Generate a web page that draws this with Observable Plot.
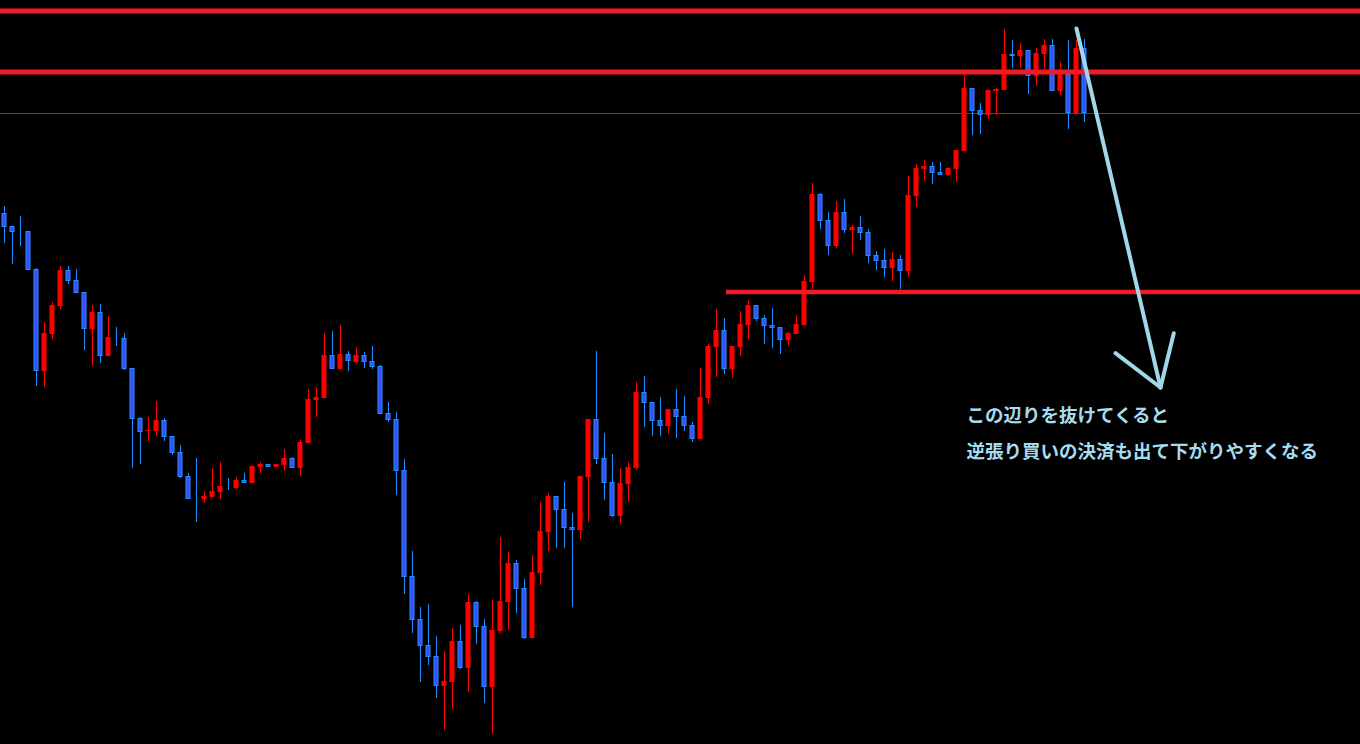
<!DOCTYPE html>
<html><head><meta charset="utf-8">
<script src="https://cdn.jsdelivr.net/npm/d3@7"></script>
<script src="https://cdn.jsdelivr.net/npm/@observablehq/plot@0.6"></script>
<style>html,body{margin:0;padding:0;background:#000;overflow:hidden}#chart svg{display:block}</style>
</head><body><div id="chart"></div>
<script>
// Price values (arbitrary chart units), one per candle
const opens = [
531,518,513,513,475,373,410,438,474,464,
452,415,432,388,407,406,376,326,313,313,
324,308,292,268,246,245,247,252,258,256,
264,261,277,280,277,279,286,276,301,344,
346,389,375,390,382,389,383,378,331,325,
274,168,125,99,88,58,62,103,76,142,
118,57,113,142,181,156,106,171,212,248,
235,217,214,267,325,286,262,228,260,276,
352,342,324,318,335,328,319,305,346,397,
414,375,397,419,439,426,419,417,404,410,
419,462,550,524,498,532,514,517,512,489,
484,476,485,473,548,575,578,572,569,575,
593,656,634,629,653,654,690,688,694,668,
690,699,653,670,631,696];
const closes = [
517,512,512,474,373,411,439,474,463,451,
415,432,388,407,406,375,325,312,314,324,
307,291,267,245,245,248,253,258,257,264,
261,278,280,277,280,286,276,302,345,347,
389,375,390,383,389,382,377,330,324,273,
167,124,98,87,58,63,103,76,142,117,
57,114,143,181,155,106,172,213,248,234,
216,214,268,325,285,261,228,261,277,352,
341,323,318,335,327,318,305,347,398,414,
375,398,420,439,425,418,416,404,411,420,
463,550,523,498,532,514,517,511,488,483,
476,485,473,549,576,578,571,569,576,594,
656,633,629,654,655,690,688,694,668,691,
699,653,670,631,696,631];
const highs = [
538,518,528,513,476,422,442,478,478,475,
452,439,440,428,417,411,376,327,327,343,
326,308,299,271,286,253,276,282,266,267,
271,279,282,280,280,295,287,304,355,357,
411,413,419,393,397,392,398,379,342,332,
285,193,137,140,108,93,116,119,150,143,
125,144,207,192,184,165,189,242,251,248,
262,231,268,325,393,311,290,276,282,362,
368,342,347,335,355,348,322,376,400,435,
426,398,433,444,439,429,436,417,412,429,
469,561,551,532,543,545,519,528,515,493,
495,492,489,568,580,584,582,582,577,594,
672,656,641,655,656,715,704,701,694,696,
705,705,682,704,704,705];
const lows = [
501,480,498,474,358,357,405,435,460,451,
394,378,381,388,398,374,276,280,303,308,
303,289,266,245,222,241,247,245,254,255,
261,261,271,277,277,273,276,268,301,327,
346,375,375,373,381,376,375,330,322,249,
150,111,62,79,46,14,35,75,52,100,
41,10,111,114,131,105,106,159,193,196,
196,137,205,222,280,244,227,221,242,274,
317,308,308,310,306,313,302,305,340,367,
370,366,388,405,423,400,396,390,398,410,
419,455,515,489,496,511,490,504,481,474,
467,463,455,467,537,563,560,569,568,562,
593,609,610,625,629,654,676,676,650,658,
675,653,649,615,631,622];

// Horizontal levels
const majorLevels = [733.5, 672.5];
const thinLevel = [631];
const supportLevel = [{price: 452.5, from: 90.25, to: 169.5}];

// Annotation
const noteLines = [
  {text: "この辺りを抜けてくると", x: 120.25, price: 328.5},
  {text: "逆張り買いの決済も出て下がりやすくなる", x: 120.25, price: 292.5}
];
const arrowSegments = [
  {x1: 134, p1: 716, x2: 144.5, p2: 357},
  {x1: 138.875, p1: 391.3, x2: 144.5, p2: 357},
  {x1: 146.16, p1: 411.3, x2: 144.5, p2: 357}
];

const candles = opens.map((o, i) => ({
  i, open: o, close: closes[i], high: highs[i], low: lows[i], up: closes[i] >= o
}));
const half = 0.3125;
const upC = candles.filter(d => d.up);
const dnC = candles.filter(d => !d.up);

const chart = Plot.plot({
  width: 1360,
  height: 744,
  margin: 0,
  x: {domain: [-0.5, 169.5], axis: null},
  y: {domain: [0, 744], axis: null},
  style: {background: "#000"},
  marks: [
    Plot.ruleY(thinLevel, {stroke: "#43437a", strokeWidth: 1}),
    Plot.ruleX(candles, {x: "i", y1: "low", y2: "high", stroke: d => d.up ? "#ff0000" : "#1e90ff", strokeWidth: 1}),
    Plot.rect(upC, {x1: d => d.i - half, x2: d => d.i + half, y1: "open", y2: "close", fill: "#ff0000"}),
    Plot.rect(dnC, {x1: d => d.i - half, x2: d => d.i + half, y1: "open", y2: "close", fill: "#3c4cff", stroke: "#1e90ff", strokeWidth: 1, inset: 0.5}),
    Plot.ruleY(majorLevels, {stroke: "#ee1c24", strokeWidth: 5}),
    Plot.ruleY(supportLevel, {y: "price", x1: "from", x2: "to", stroke: "#ee1c24", strokeWidth: 4.5}),
    Plot.link(arrowSegments, {x1: "x1", y1: "p1", x2: "x2", y2: "p2", stroke: "#a0d8ea", strokeWidth: 4, strokeLinecap: "round"}),
    Plot.text(noteLines, {x: "x", y: "price", text: "text", textAnchor: "start", lineAnchor: "middle", fill: "#a6dcef", fontSize: 18.5, fontWeight: "bold", fontFamily: "'Noto Sans CJK JP', sans-serif"})
  ]
});
document.getElementById("chart").appendChild(chart);
</script>
</body></html>
